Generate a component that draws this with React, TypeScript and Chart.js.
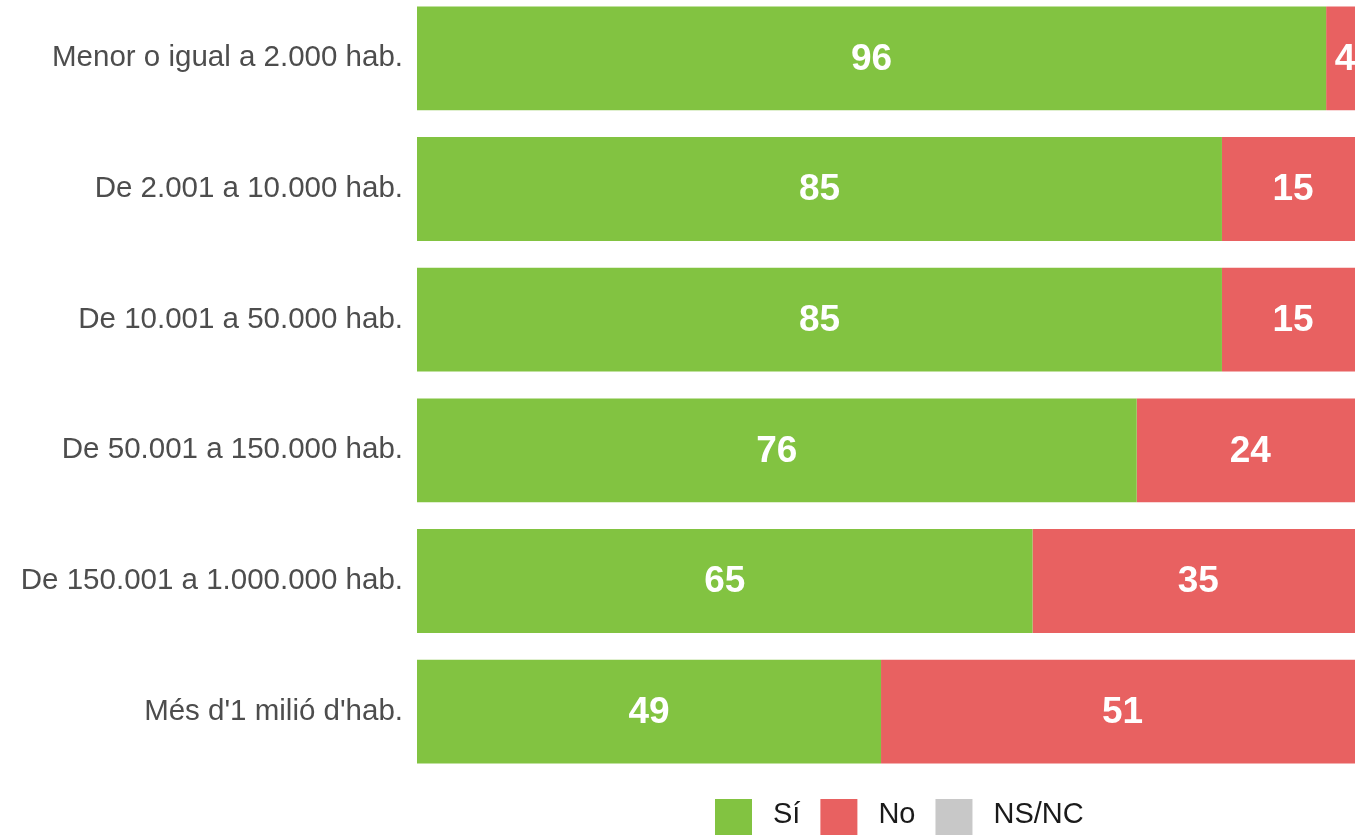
import React, { useEffect, useRef } from "react";
import { Chart, registerables } from "chart.js";

Chart.register(...registerables);

const categories = [
  "Menor o igual a 2.000 hab.",
  "De 2.001 a 10.000 hab.",
  "De 10.001 a 50.000 hab.",
  "De 50.001 a 150.000 hab.",
  "De 150.001 a 1.000.000 hab.",
  "Més d'1 milió d'hab.",
];
const siValues = [96, 85, 85, 76, 65, 49];
const noValues = [4, 15, 15, 24, 35, 51];
const nsncValues = [0, 0, 0, 0, 0, 0];
const seriesNames = ["Sí", "No", "NS/NC"];
const seriesColors = ["#82C341", "#E86161", "#C8C8C8"];

const FONT = "'Liberation Sans', Arial, Helvetica, sans-serif";

const valueLabels = {
  id: "valueLabels",
  afterDatasetsDraw(chart: any) {
    const ctx = chart.ctx;
    ctx.save();
    ctx.font = `bold 37px ${FONT}`;
    ctx.fillStyle = "#FFFFFF";
    ctx.textAlign = "center";
    ctx.textBaseline = "middle";
    chart.data.datasets.forEach((ds: any, di: number) => {
      const meta = chart.getDatasetMeta(di);
      meta.data.forEach((el: any, i: number) => {
        const v = ds.data[i];
        if (!v) return;
        const cx = (el.x + el.base) / 2;
        ctx.fillText(String(v), cx, el.y + 1);
      });
    });
    ctx.restore();
  },
};

const bottomLegend = {
  id: "bottomLegend",
  afterDraw(chart: any) {
    const ctx = chart.ctx;
    ctx.save();
    ctx.font = `29px ${FONT}`;
    ctx.textBaseline = "alphabetic";
    ctx.textAlign = "left";
    const box = 37;
    const gapText = 21;
    const gapItem = 20;
    let x = 715;
    const boxTop = 807;
    const baseline = 831;
    chart.data.datasets.forEach((ds: any) => {
      ctx.fillStyle = ds.backgroundColor;
      ctx.fillRect(x, boxTop, box, box);
      ctx.fillStyle = "#1A1A1A";
      const tx = x + box + gapText;
      ctx.fillText(ds.label, tx, baseline);
      x = tx + ctx.measureText(ds.label).width + gapItem;
    });
    ctx.restore();
  },
};

export default function App() {
  const canvasRef = useRef<HTMLCanvasElement | null>(null);

  useEffect(() => {
    if (!canvasRef.current) return;
    const values = [siValues, noValues, nsncValues];
    const chart = new Chart(canvasRef.current, {
      type: "bar",
      data: {
        labels: categories,
        datasets: values.map((d, i) => ({
          label: seriesNames[i],
          data: d,
          backgroundColor: seriesColors[i],
          borderWidth: 0,
          categoryPercentage: 1,
          barPercentage: 0.795,
        })),
      },
      options: {
        indexAxis: "y",
        animation: false,
        responsive: false,
        devicePixelRatio: 1,
        layout: { autoPadding: false, padding: { top: 1, bottom: 75, left: 0, right: 0 } },
        plugins: {
          legend: { display: false },
          tooltip: { enabled: false },
          title: { display: false },
        },
        scales: {
          x: {
            stacked: true,
            min: 0,
            max: 100,
            display: false,
          },
          y: {
            stacked: true,
            grid: { display: false, drawTicks: false },
            border: { display: false },
            ticks: {
              padding: 14,
              color: "#4D4D4D",
              font: { family: FONT, size: 29.5 },
            },
            afterFit(scale: any) {
              scale.width = 417;
              scale.paddingTop = 0;
              scale.paddingBottom = 0;
            },
          },
        },
      },
      plugins: [valueLabels, bottomLegend],
    } as any);
    return () => chart.destroy();
  }, []);

  return (
    <div
      style={{
        position: "fixed",
        left: 0,
        top: 0,
        width: 1355,
        height: 835,
        overflow: "hidden",
        background: "#FFFFFF",
      }}
    >
      <div style={{ position: "absolute", left: 0, top: -8, width: 1364, height: 860 }}>
        <canvas ref={canvasRef} width={1364} height={860} />
      </div>
    </div>
  );
}
